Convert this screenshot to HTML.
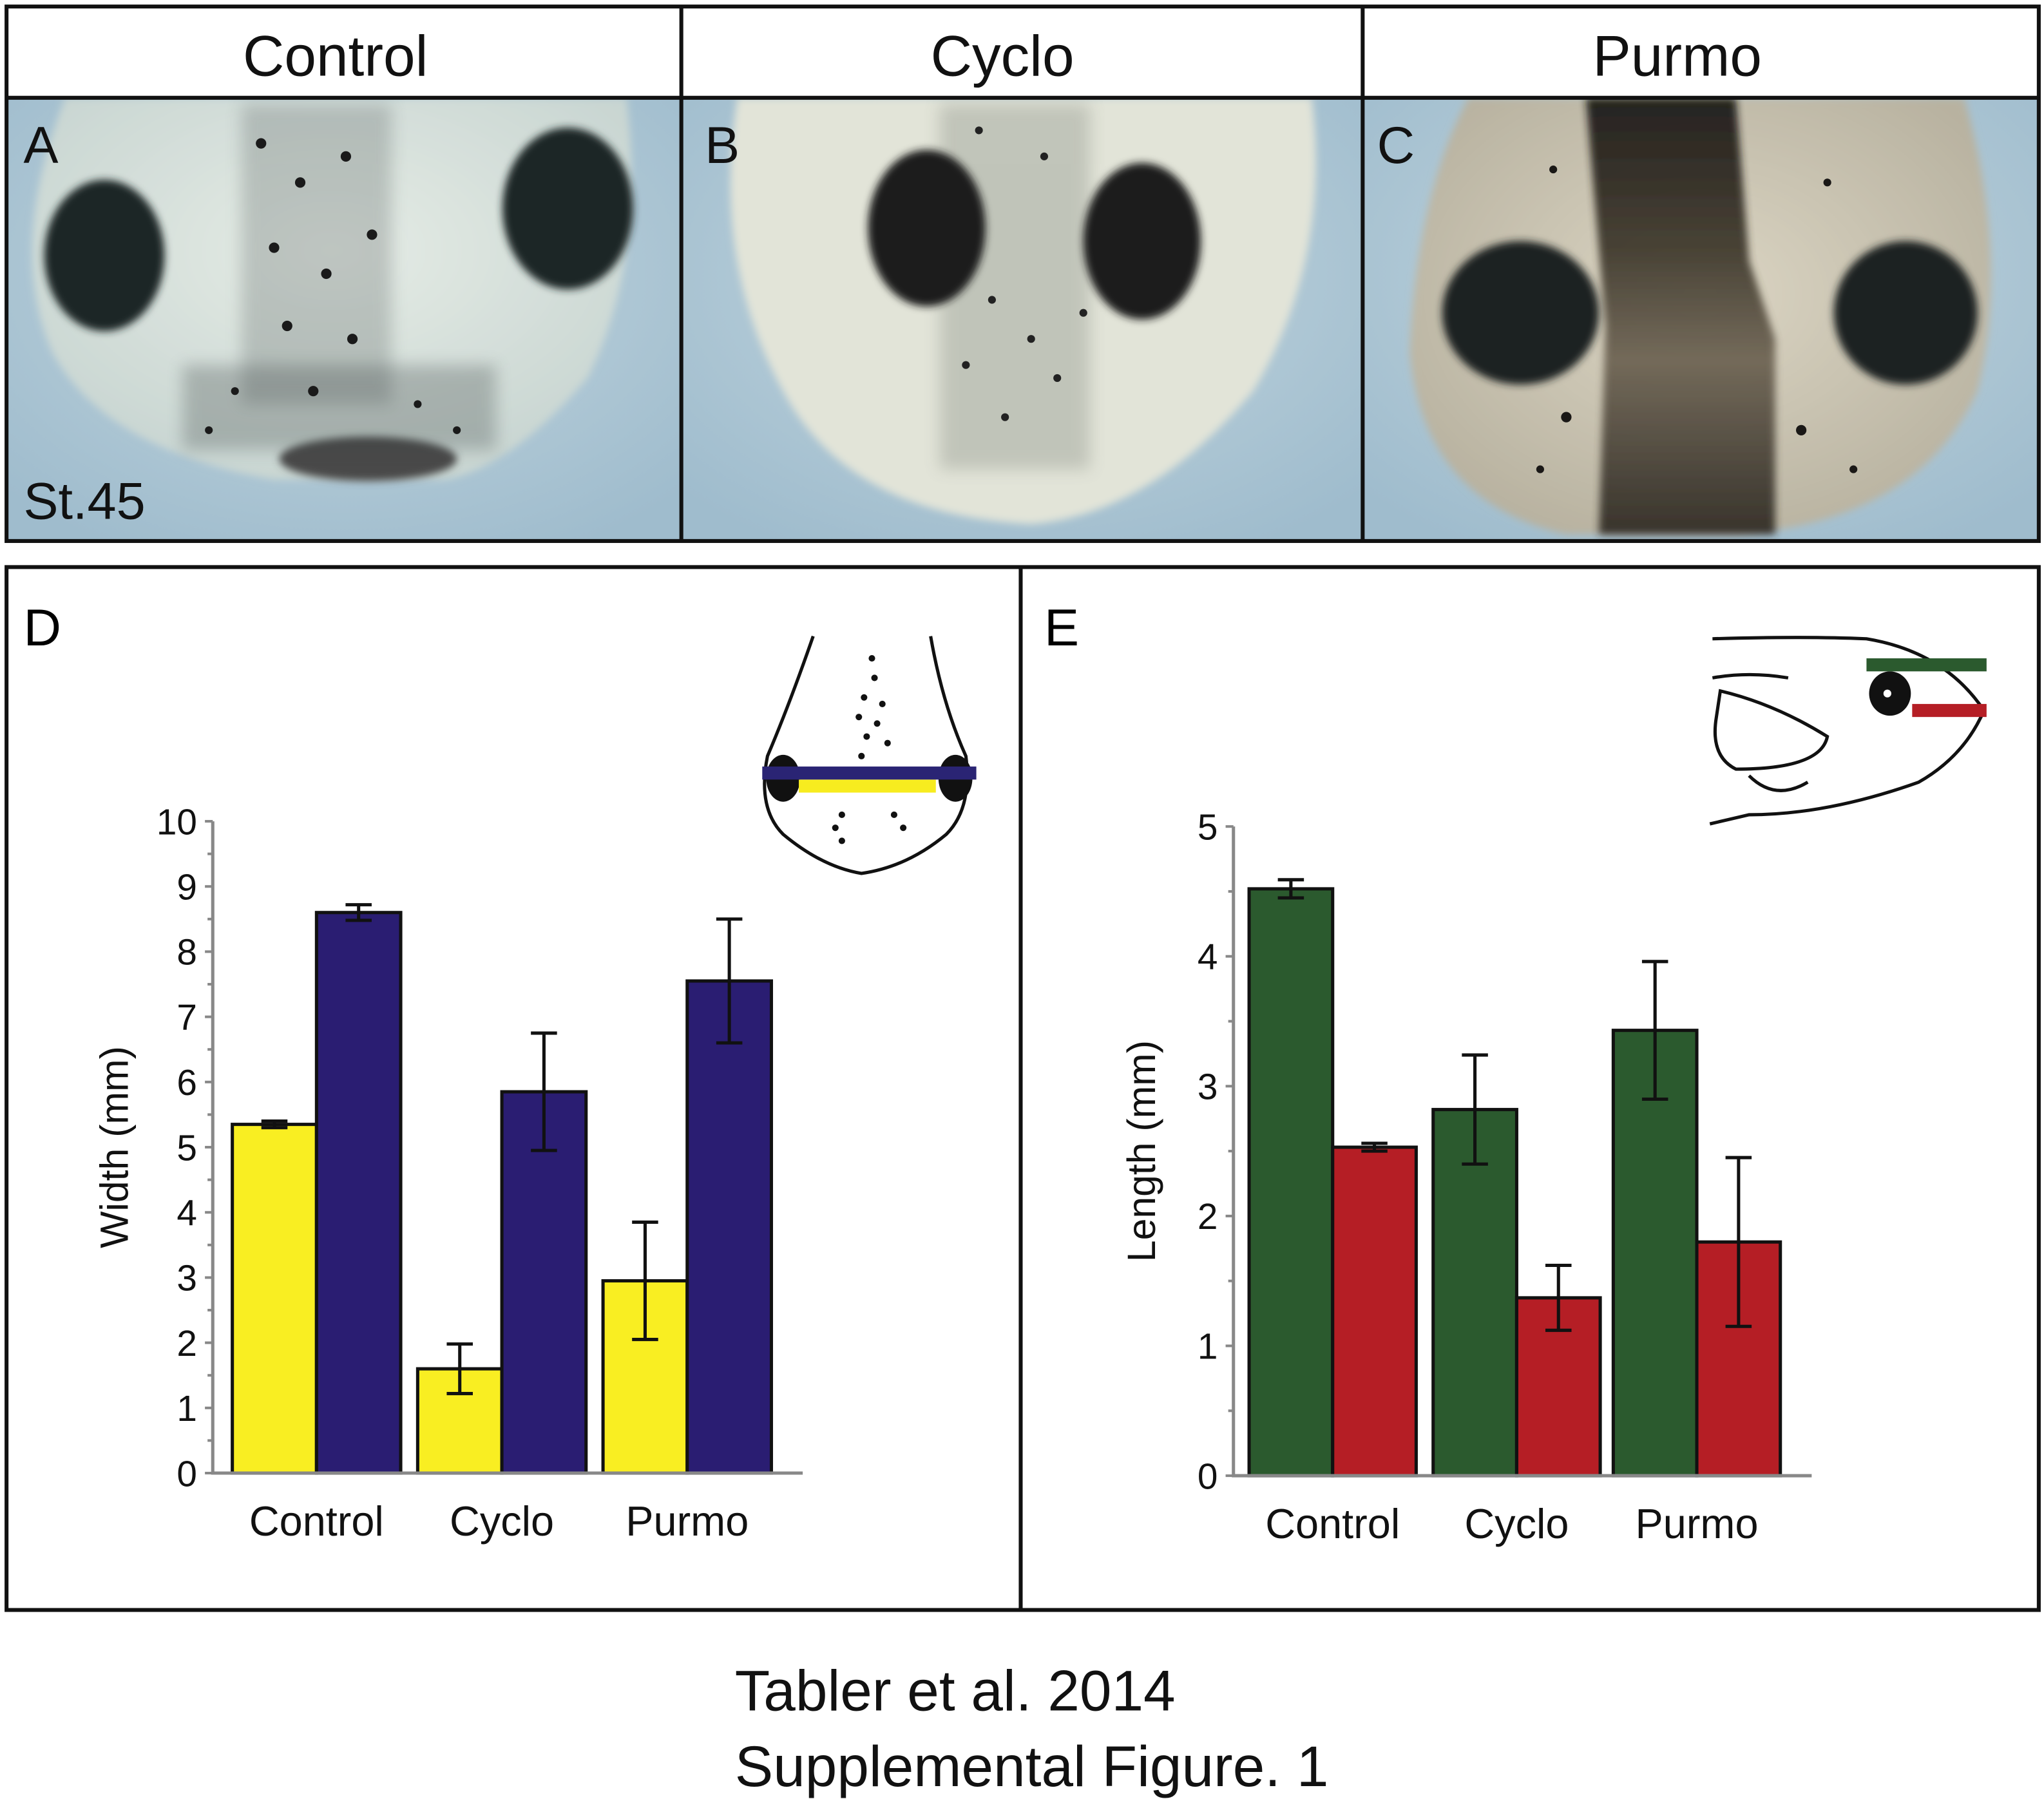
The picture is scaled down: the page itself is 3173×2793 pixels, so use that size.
<!DOCTYPE html>
<html><head><meta charset="utf-8"><style>
html,body{margin:0;padding:0;background:#fff;}
svg{display:block;font-family:"Liberation Sans",sans-serif;}
</style></head><body>
<svg id="fig" width="3173" height="2793" viewBox="0 0 1566 1380" preserveAspectRatio="none">
<defs>
<radialGradient id="bgblue" cx="50%" cy="40%" r="70%"><stop offset="0" stop-color="#c3d6df"/><stop offset="1" stop-color="#9fbccd"/></radialGradient>
<radialGradient id="head1" cx="50%" cy="40%" r="60%"><stop offset="0" stop-color="#e6ece6"/><stop offset="1" stop-color="#c9d6d2"/></radialGradient>
<radialGradient id="head3" cx="50%" cy="45%" r="60%"><stop offset="0" stop-color="#dcd6c4"/><stop offset="1" stop-color="#b8b2a0"/></radialGradient>
<linearGradient id="stripe3" x1="0" y1="0" x2="0" y2="1"><stop offset="0" stop-color="#151210"/><stop offset="0.35" stop-color="#3a3428"/><stop offset="0.6" stop-color="#6a6050"/><stop offset="1" stop-color="#2a2620"/></linearGradient>
<filter id="soft" x="-20%" y="-20%" width="140%" height="140%"><feGaussianBlur stdDeviation="6"/></filter>
<filter id="soft2" x="-20%" y="-20%" width="140%" height="140%"><feGaussianBlur stdDeviation="3"/></filter>
<clipPath id="c1"><rect x="5" y="75" width="517" height="340"/></clipPath>
<clipPath id="c2"><rect x="522" y="75" width="522" height="340"/></clipPath>
<clipPath id="c3"><rect x="1044" y="75" width="518" height="340"/></clipPath>
</defs>
<g>
<rect x="5" y="75" width="517" height="340" fill="url(#bgblue)"/>
<rect x="522" y="75" width="522" height="340" fill="url(#bgblue)"/>
<rect x="1044" y="75" width="518" height="340" fill="url(#bgblue)"/>
<g clip-path="url(#c1)">
<path d="M50 75 L480 75 Q495 200 450 290 Q390 360 340 368 L210 368 Q80 345 40 270 Q5 190 50 75Z" fill="url(#head1)" filter="url(#soft2)"/>
<ellipse cx="282" cy="352" rx="68" ry="17" fill="#4a4a48" filter="url(#soft2)"/>
<rect x="185" y="80" width="115" height="230" fill="#5a6262" opacity="0.28" filter="url(#soft)"/>
<rect x="140" y="280" width="240" height="65" fill="#3a4242" opacity="0.28" filter="url(#soft)"/>
<ellipse cx="80" cy="196" rx="46" ry="58" fill="#1c2828" filter="url(#soft2)"/>
<ellipse cx="435" cy="160" rx="50" ry="62" fill="#1c2828" filter="url(#soft2)"/>
<g fill="#1a1a1a"><circle cx="200" cy="110" r="4"/><circle cx="230" cy="140" r="4"/><circle cx="265" cy="120" r="4"/><circle cx="210" cy="190" r="4"/><circle cx="250" cy="210" r="4"/><circle cx="285" cy="180" r="4"/><circle cx="220" cy="250" r="4"/><circle cx="270" cy="260" r="4"/><circle cx="180" cy="300" r="3"/><circle cx="320" cy="310" r="3"/><circle cx="240" cy="300" r="4"/><circle cx="350" cy="330" r="3"/><circle cx="160" cy="330" r="3"/></g>
</g>
<g clip-path="url(#c2)">
<path d="M565 75 L1005 75 Q1020 200 960 300 Q880 395 790 402 Q650 395 600 300 Q545 200 565 75Z" fill="#e2e4d8" filter="url(#soft2)"/>
<rect x="720" y="80" width="115" height="280" fill="#606860" opacity="0.25" filter="url(#soft)"/>
<ellipse cx="710" cy="175" rx="45" ry="60" fill="#1a1c1c" filter="url(#soft2)"/>
<ellipse cx="875" cy="185" rx="45" ry="60" fill="#1a1c1c" filter="url(#soft2)"/>
<g fill="#222"><circle cx="760" cy="230" r="3"/><circle cx="790" cy="260" r="3"/><circle cx="740" cy="280" r="3"/><circle cx="810" cy="290" r="3"/><circle cx="770" cy="320" r="3"/><circle cx="830" cy="240" r="3"/><circle cx="750" cy="100" r="3"/><circle cx="800" cy="120" r="3"/></g>
</g>
<g clip-path="url(#c3)">
<path d="M1125 75 L1505 75 Q1540 200 1515 300 Q1470 400 1330 410 L1200 410 Q1090 385 1080 270 Q1085 150 1125 75Z" fill="url(#head3)" filter="url(#soft2)"/>
<path d="M1215 75 L1330 75 L1340 200 L1360 260 L1360 410 L1225 410 L1230 250 Z" fill="url(#stripe3)" opacity="0.9" filter="url(#soft2)"/>
<ellipse cx="1165" cy="240" rx="60" ry="55" fill="#1c2224" filter="url(#soft2)"/>
<ellipse cx="1460" cy="240" rx="55" ry="55" fill="#1c2224" filter="url(#soft2)"/>
<g fill="#1a1816"><circle cx="1200" cy="320" r="4"/><circle cx="1380" cy="330" r="4"/><circle cx="1190" cy="130" r="3"/><circle cx="1400" cy="140" r="3"/><circle cx="1420" cy="360" r="3"/><circle cx="1180" cy="360" r="3"/></g>
</g>
</g>
<g fill="none" stroke="#111" stroke-width="3">
<rect x="5" y="5" width="1557" height="410"/>
<line x1="5" y1="75" x2="1562" y2="75"/>
<line x1="522" y1="5" x2="522" y2="415"/>
<line x1="1044" y1="5" x2="1044" y2="415"/>
</g>
<g font-size="44" text-anchor="middle" fill="#111">
<text x="257" y="58">Control</text>
<text x="768" y="58">Cyclo</text>
<text x="1285" y="58">Purmo</text>
</g>
<g font-size="40" fill="#111">
<text x="18" y="125">A</text>
<text x="540" y="125">B</text>
<text x="1055" y="125">C</text>
<text x="18" y="398">St.45</text>
</g>
<g fill="none" stroke="#111" stroke-width="3">
<rect x="5" y="435" width="1557" height="800"/>
<line x1="782" y1="435" x2="782" y2="1235"/>
</g>
<text x="18" y="495" font-size="40">D</text>
<text x="800" y="495" font-size="40">E</text>
<g fill="none" stroke="#111" stroke-width="2.5">
<path d="M623 488 Q605 540 588 580 Q580 620 600 640 Q630 665 660 670 Q695 665 725 640 Q745 620 740 580 Q722 540 713 488"/>
<ellipse cx="600" cy="597" rx="13" ry="18" fill="#111" stroke="none"/>
<ellipse cx="732" cy="597" rx="13" ry="18" fill="#111" stroke="none"/>
<rect x="612" y="598" width="105" height="10" fill="#f7ec1f" stroke="none"/>
<rect x="584" y="588" width="164" height="10" fill="#2a2474" stroke="none"/>
<g fill="#111" stroke="none"><circle cx="668" cy="505" r="2.5"/><circle cx="670" cy="520" r="2.5"/><circle cx="662" cy="535" r="2.5"/><circle cx="676" cy="540" r="2.5"/><circle cx="658" cy="550" r="2.5"/><circle cx="672" cy="555" r="2.5"/><circle cx="664" cy="565" r="2.5"/><circle cx="680" cy="570" r="2.5"/><circle cx="660" cy="580" r="2.5"/><circle cx="645" cy="625" r="2.5"/><circle cx="640" cy="635" r="2.5"/><circle cx="685" cy="625" r="2.5"/><circle cx="692" cy="635" r="2.5"/><circle cx="645" cy="645" r="2.5"/></g>
</g>
<g fill="none" stroke="#111" stroke-width="2.5">
<path d="M1312 490 Q1380 488 1430 490 Q1490 500 1520 545 Q1505 580 1470 600 Q1400 625 1340 625 L1310 632"/>
<path d="M1312 520 Q1340 515 1370 520"/>
<path d="M1318 530 Q1360 540 1400 565 Q1395 590 1330 590 Q1310 580 1315 550 Z"/>
<path d="M1340 595 Q1360 615 1385 600"/>
<ellipse cx="1448" cy="532" rx="16" ry="17" fill="#111" stroke="none"/>
<circle cx="1446" cy="532" r="3" fill="#fff" stroke="none"/>
<rect x="1430" y="505" width="92" height="10" fill="#2b5a2e" stroke="none"/>
<rect x="1465" y="540" width="57" height="10" fill="#b51e25" stroke="none"/>
</g>
<g id="chartD"></g>
<g id="chartE"></g>
<g font-size="44" fill="#111">
<text x="563" y="1312">Tabler et al. 2014</text>
<text x="563" y="1370">Supplemental Figure. 1</text>
</g>
</svg>
<script>
const categories = ["Control","Cyclo","Purmo"];
const dYellow = [5.35, 1.6, 2.95];
const dYellowErr = [0.05, 0.38, 0.9];
const dBlue = [8.6, 5.85, 7.55];
const dBlueErr = [0.12, 0.9, 0.95];
const dTicks = [0,1,2,3,4,5,6,7,8,9,10];
const eGreen = [4.52, 2.82, 3.43];
const eGreenErr = [0.07, 0.42, 0.53];
const eRed = [2.53, 1.37, 1.8];
const eRedErr = [0.03, 0.25, 0.65];
const eTicks = [0,1,2,3,4,5];
const NS="http://www.w3.org/2000/svg";
function mk(tag, attrs, parent){const e=document.createElementNS(NS,tag);for(const k in attrs)e.setAttribute(k,attrs[k]);parent.appendChild(e);return e;}
function draw(g, cfg){
  const y=v=>cfg.y0-(v/cfg.max)*(cfg.y0-cfg.yTop);
  cfg.ticks.forEach(t=>{
    const l=mk('line',{x1:cfg.ax-6,x2:cfg.ax,y1:y(t),y2:y(t),stroke:'#888','stroke-width':2},g);
    
    
    if(t<cfg.max){const m=mk('line',{x1:cfg.ax-4,x2:cfg.ax,y1:y(t+cfg.minor),y2:y(t+cfg.minor),stroke:'#888','stroke-width':2},g);
      
      }
    const tx=mk('text',{x:cfg.ax-12,y:y(t)+10,'font-size':28,'text-anchor':'end',fill:'#111'},g);
    tx.textContent=t;
    
    
  });
  categories.forEach((c,i)=>{
    const gx=cfg.gx[i];
    [[cfg.s1,cfg.e1,cfg.c1,0],[cfg.s2,cfg.e2,cfg.c2,1]].forEach(([s,e,col,j])=>{
      const x=gx+j*cfg.bw;
      const r=mk('rect',{x:x,y:y(s[i]),width:cfg.bw,height:cfg.y0-y(s[i]),fill:col,stroke:'#111','stroke-width':2.5},g);
      
      
      const cx=x+cfg.bw/2;
      const eb=mk('path',{d:`M${cx} ${y(s[i]+e[i])}V${y(s[i]-e[i])}M${cx-10} ${y(s[i]+e[i])}h20M${cx-10} ${y(s[i]-e[i])}h20`,stroke:'#111','stroke-width':2.5,fill:'none'},g);
      
      
    });
    const tl=mk('text',{x:gx+cfg.bw,y:cfg.y0+48,'font-size':32,'text-anchor':'middle',fill:'#111'},g);
    tl.textContent=c;
    
    
  });
  const ax=mk('path',{d:`M${cfg.ax} ${cfg.yTop}V${cfg.y0}H${cfg.axEnd}`,stroke:'#888','stroke-width':2.5,fill:'none'},g);
  
  
  const yt=mk('text',{x:0,y:0,'font-size':30,'text-anchor':'middle',fill:'#111',transform:`translate(${cfg.titleX},${(cfg.y0+cfg.yTop)/2}) rotate(-90)`},g);
  yt.textContent=cfg.title;
  
  
}
draw(document.getElementById('chartD'),{ax:163,axEnd:615,y0:1130,yTop:630,max:10,minor:0.5,ticks:dTicks,gx:[178,320,462],bw:64.5,s1:dYellow,e1:dYellowErr,s2:dBlue,e2:dBlueErr,c1:'#f9ee22',c2:'#2a1d72',n1:'inner',n2:'outer',title:'Width (mm)',titleX:98});
draw(document.getElementById('chartE'),{ax:945,axEnd:1388,y0:1132,yTop:634,max:5,minor:0.5,ticks:eTicks,gx:[957,1098,1236],bw:64,s1:eGreen,e1:eGreenErr,s2:eRed,e2:eRedErr,c1:'#2b5a2e',c2:'#b51e25',n1:'head',n2:'snout',title:'Length (mm)',titleX:885});
</script>
</body></html>
